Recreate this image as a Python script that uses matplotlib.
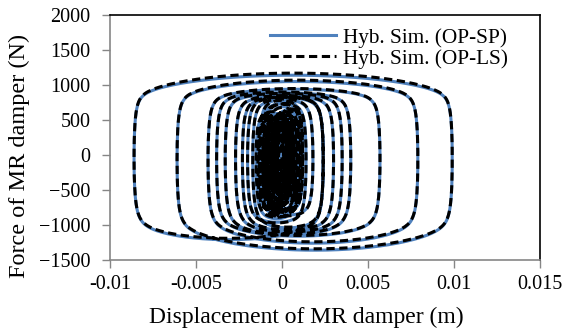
import numpy as np
import matplotlib
matplotlib.use("Agg")
from matplotlib import pyplot as plt

# displacement turning points of the damper stroke (m), read from the loops
disp_turns = [0.0, -0.0012, 0.0014, -0.0020, 0.0024, -0.0086, 0.0099,
              -0.0061, 0.0079, -0.0043, 0.0057, -0.0038, 0.0040, -0.0033,
              0.0035, -0.0027, 0.0030, -0.0023, 0.0024, -0.0017, 0.0018,
              -0.0013, 0.0012, -0.0010, 0.0011, -0.0008, 0.0009, -0.0015,
              0.0005, -0.0004, 0.0010, -0.0012, 0.0002, -0.0006, 0.0008,
              -0.0011, 0.0003, -0.0002, 0.0012, -0.0009, 0.0001, -0.0005,
              0.0006, -0.0003, 0.0002, -0.0001,
              -0.0014, 0.0007, -0.0009, 0.0011, -0.0004, 0.0004, -0.0013,
              0.0009, -0.0007, 0.0003, -0.0011, 0.0010, -0.0002, 0.0005,
              -0.0010, 0.0002, -0.0006, 0.0008, -0.0003, 0.0001,
              -0.0008, 0.0004, -0.0005, 0.0006, -0.0009, 0.0000, -0.0004,
              0.0007, -0.0006, 0.0002, -0.0010, 0.0003, -0.0002, 0.0005,
              -0.0007, 0.0001, -0.0003, 0.0004, -0.0005, 0.0002, -0.0001]

# peak force of each half cycle (N), OP-SP and OP-LS
peak_sp = [750, 800, 900, 900, 1150, 1200, 1300, 1110, 1200, 1000, 1100,
           950, 1080, 930, 1050, 900, 1020, 880, 980, 850, 800, 850, 750,
           800, 700, 750, 850, 650, 500, 700, 800, 550, 600, 650, 750, 500,
           450, 700, 750, 480, 520, 600, 450, 400, 350,
           700, 600, 750, 650, 500, 550, 700, 650, 600, 450,
           700, 600, 400, 500, 650, 450, 550, 600, 400, 300,
           600, 450, 500, 550, 650, 350, 450, 550, 500, 400, 650,
           450, 350, 500, 550, 400, 350, 450, 400, 300, 250]
peak_ls = [760, 790, 910, 890, 1130, 1230, 1280, 1130, 1180, 1010, 1090,
           960, 1070, 940, 1040, 910, 1010, 890, 970, 860, 810, 840, 760,
           790, 710, 740, 830, 680, 520, 680, 820, 570, 580, 670, 730, 520,
           430, 720, 730, 500, 500, 620, 430, 420, 330,
           720, 580, 770, 630, 520, 530, 720, 630, 620, 430,
           720, 580, 420, 480, 670, 430, 570, 580, 420, 280,
           620, 430, 520, 530, 670, 330, 470, 530, 520, 380, 670,
           430, 370, 480, 570, 380, 370, 430, 420, 280, 270]

force_offset = -60.0
labels = ["Hyb. Sim. (OP-SP)", "Hyb. Sim. (OP-LS)"]


def func_loop(turns, peaks, n=120):
    """
    Build displacement/force path through the turning points
    """
    xs, fs = [], []
    for i in range(len(turns) - 1):
        x0, x1 = turns[i], turns[i + 1]
        s = np.sign(x1 - x0)
        beta = 1.5 + 500 * abs(x1 - x0) / 2
        phi = np.linspace(0, np.pi, n)
        x = x0 + (x1 - x0) * (1 - np.cos(phi)) / 2
        fy = min(800.0, 0.85 * peaks[i])
        f = s * (fy * np.tanh(beta * np.sin(phi)) / np.tanh(beta)
                 + (peaks[i] - fy) * np.sin(phi)) + force_offset
        xs.append(x)
        fs.append(f)
    return np.concatenate(xs), np.concatenate(fs)


x_sp, f_sp = func_loop(disp_turns, peak_sp)
x_ls, f_ls = func_loop(disp_turns, peak_ls)

plt.rcParams["font.family"] = ["Liberation Serif", "DejaVu Serif"]
fig = plt.figure(figsize=(5.66, 3.30), dpi=100)
ax = fig.add_axes([0.1943, 0.2121, 0.7597, 0.7424])

ax.plot(x_sp, f_sp, color="#4f81bd", lw=2.2, label=labels[0])
ax.plot(x_ls, f_ls, color="black", lw=2.2, dashes=(2.7, 1.5), label=labels[1])

ax.set_xlim(-0.01, 0.015)
ax.set_ylim(-1500, 2000)
ax.set_xticks([-0.01, -0.005, 0, 0.005, 0.01, 0.015])
ax.set_xticklabels(["-0.01", "-0.005", "0", "0.005", "0.01", "0.015"])
ax.set_yticks(np.arange(-1500, 2001, 500))
ax.tick_params(direction="out", length=5.5, width=1, color="#868686",
               labelsize=14.5)
ax.tick_params(axis="y", pad=8.5)
ax.tick_params(axis="x", pad=5)

for side in ["left", "bottom"]:
    ax.spines[side].set_color("#868686")
    ax.spines[side].set_linewidth(1.2)
for side in ["top", "right"]:
    ax.spines[side].set_color("black")
    ax.spines[side].set_linewidth(1.2)

ax.set_xlabel("Displacement of MR damper (m)", fontsize=17)
ax.xaxis.set_label_coords(0.456, -0.19)
ax.set_ylabel("Force of MR damper (N)", fontsize=17.5)
ax.yaxis.set_label_coords(-0.185, 0.424)

ax.legend(loc="upper right", frameon=False, fontsize=15.3, handlelength=3.1,
          handletextpad=0.35, borderaxespad=0.2, labelspacing=0.05,
          bbox_to_anchor=(0.955, 1.0))

fig.savefig("out.png", dpi=100)
